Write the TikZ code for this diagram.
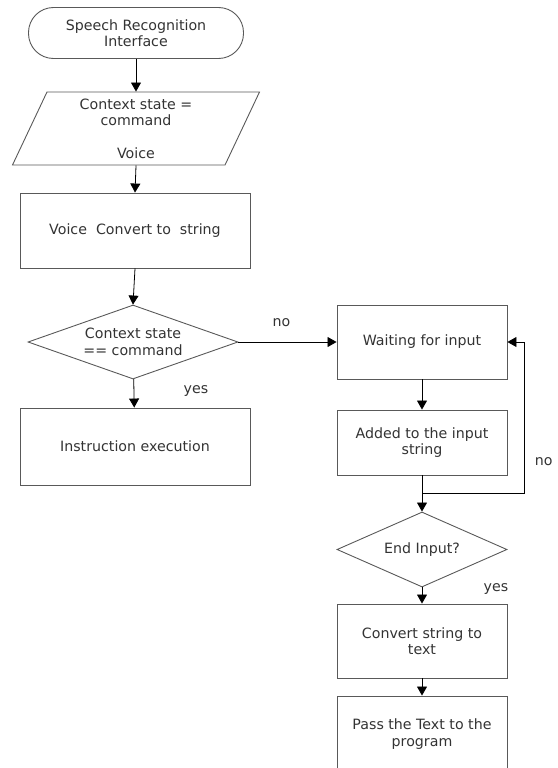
\documentclass[tikz,border=0pt]{standalone}
\usepackage{fontspec}
\setmainfont{DejaVu Sans}
\usetikzlibrary{shapes.geometric, arrows.meta}

\begin{document}
\begin{tikzpicture}[x=1pt, y=-1pt,
    font=\fontsize{14.2}{16.5}\selectfont,
    every node/.style={text=black!80},
    process/.style={draw=black!65, line width=0.9pt, inner sep=2pt, align=center},
    terminal/.style={process, rounded corners=25pt, minimum width=215pt, minimum height=51pt},
    inputbox/.style={process, trapezium, trapezium left angle=60, trapezium right angle=120,
        trapezium stretches body, minimum width=247pt, minimum height=73pt, inner sep=0pt},
    decision/.style={process, diamond, aspect=2.8, inner sep=0pt},
    arrow/.style={draw=black, line width=0.8pt, -{Triangle[width=10pt,length=9pt]}},
    plain/.style={draw=black, line width=0.8pt}
]
    \useasboundingbox (0,0) rectangle (557,768);

    % Left column
    \node[terminal] (start) at (136,33) {Speech Recognition\\Interface};
    \node[inputbox] (input) at (136,128.5) {Context state =\\command\\[16pt]Voice};
    \node[process, minimum width=230pt, minimum height=75pt] (conv) at (135,230.5) {Voice\ \ Convert to\ \ string};
    \node[decision, minimum width=210pt, minimum height=74pt] (check) at (133,342) {Context state\\== command};
    \node[process, minimum width=230pt, minimum height=77pt] (exec) at (135,446.5) {Instruction execution};

    % Right column
    \node[process, minimum width=170pt, minimum height=74pt] (wait) at (422,342) {Waiting for input};
    \node[process, minimum width=170pt, minimum height=65pt] (add) at (422,442.5) {Added to the input\\string};
    \node[decision, minimum width=170pt, minimum height=75pt, aspect=2.27] (endq) at (422,549.5) {End Input?};
    \node[process, minimum width=170pt, minimum height=74pt] (tostr) at (422,641) {Convert string to\\text};
    \node[process, minimum width=170pt, minimum height=76pt] (pass) at (422,734) {Pass the Text to the\\program};
    \coordinate (join) at (422,493);

    % Connectors
    \draw[arrow] (start) -- (start.south |- input.north);
    \draw[arrow] (input.south) -- (conv.north);
    \draw[arrow] (conv.south) -- (check.north);
    \draw[arrow] (check) -- (exec) node[pos=0.5, right=46pt, yshift=2pt] {yes};
    \draw[arrow] (check) -- (wait) node[pos=0.5, above=12pt, xshift=-6pt] {no};
    \draw[arrow] (wait) -- (add);
    \draw[plain] (add) -- (join);
    \draw[arrow] (join) -- ++(102,0) |- (wait.east);
    \draw[arrow] (join) -- (endq.north);
    \draw[arrow] (endq) -- (tostr) node[pos=0.1, right=58pt] {yes};
    \draw[arrow] (tostr) -- (pass);

    % Loop label
    \node[anchor=east] (nolabel) at (556,462) {no};
\end{tikzpicture}
\end{document}
